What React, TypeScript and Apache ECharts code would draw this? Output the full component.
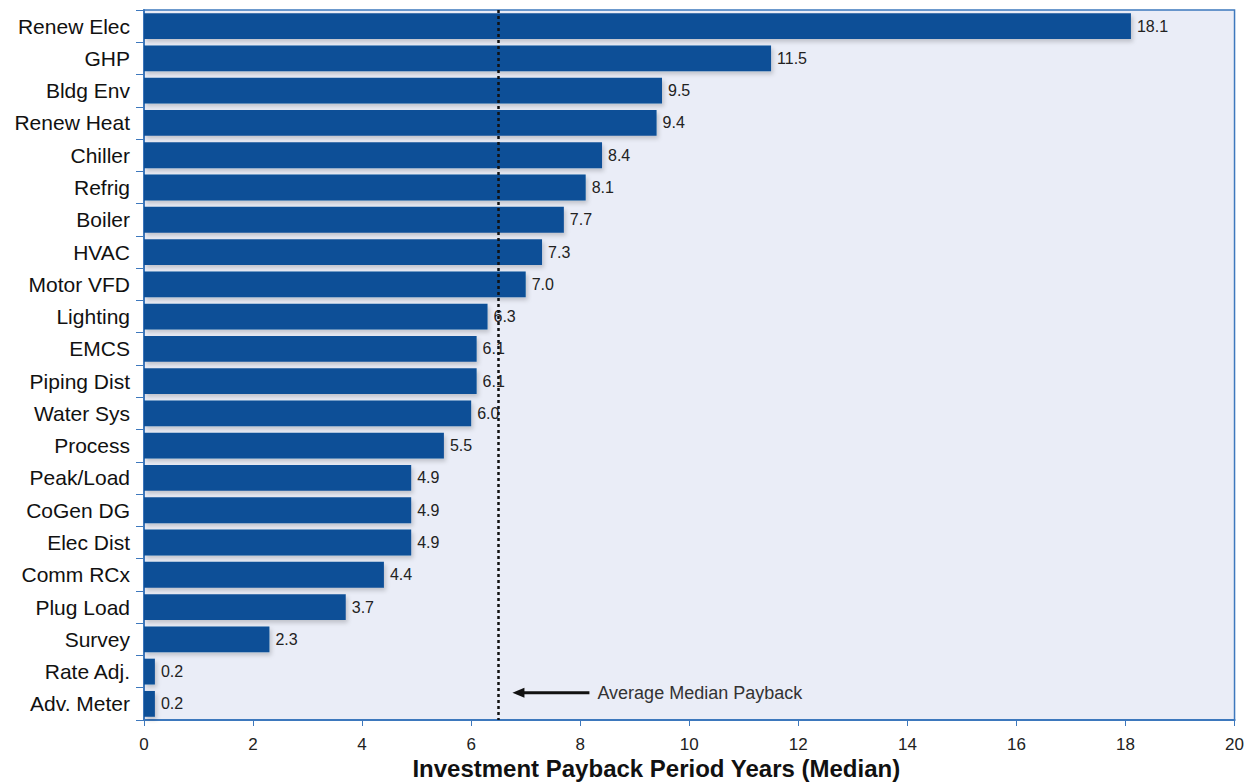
import React, { useEffect, useRef } from "react";
import * as echarts from "echarts";

const categories = [
  "Renew Elec", "GHP", "Bldg Env", "Renew Heat", "Chiller", "Refrig", "Boiler", "HVAC",
  "Motor VFD", "Lighting", "EMCS", "Piping Dist", "Water Sys", "Process", "Peak/Load",
  "CoGen DG", "Elec Dist", "Comm RCx", "Plug Load", "Survey", "Rate Adj.", "Adv. Meter",
];
const values = [
  18.1, 11.5, 9.5, 9.4, 8.4, 8.1, 7.7, 7.3, 7.0, 6.3, 6.1, 6.1, 6.0, 5.5, 4.9, 4.9, 4.9,
  4.4, 3.7, 2.3, 0.2, 0.2,
];
const averageMedian = 6.5;
const axisTitle = "Investment Payback Period Years (Median)";
const annotationText = "Average Median Payback";

const FONT = "'Liberation Sans', Arial, Helvetica, sans-serif";
const BAR = "#0a4f97";
const AXIS = "#3d78bd";

export default function App() {
  const ref = useRef<HTMLDivElement>(null);
  useEffect(() => {
    if (!ref.current) return;
    const chart = echarts.init(ref.current, null, { renderer: "svg" });
    const option: any = {
      animation: false,
      backgroundColor: "#ffffff",
      textStyle: { fontFamily: FONT },
      grid: {
        left: 144,
        right: 8,
        top: 10,
        bottom: 62,
        show: true,
        backgroundColor: "#eaedf7",
        borderColor: AXIS,
        borderWidth: 1.5,
      },
      xAxis: {
        type: "value",
        min: 0,
        max: 20,
        interval: 2,
        splitLine: { show: false },
        axisLine: { show: true, lineStyle: { color: AXIS, width: 2 } },
        axisTick: { show: true, length: 6, lineStyle: { color: AXIS } },
        axisLabel: { color: "#222", fontSize: 17, margin: 16, fontFamily: FONT },
      },
      yAxis: {
        type: "category",
        data: categories,
        inverse: true,
        axisLine: { show: true, lineStyle: { color: AXIS, width: 2 } },
        axisTick: { show: true, length: 8, lineStyle: { color: AXIS } },
        axisLabel: { color: "#111", fontSize: 21, margin: 14, fontFamily: FONT },
      },
      series: [
        {
          type: "bar",
          data: values,
          barCategoryGap: "20%",
          itemStyle: {
            color: BAR,
            shadowColor: "rgba(0,0,0,0.18)",
            shadowBlur: 4,
            shadowOffsetX: 2,
            shadowOffsetY: 3,
          },
          label: {
            show: true,
            position: "right",
            distance: 6,
            color: "#222",
            fontSize: 16,
            fontFamily: FONT,
            formatter: (p: any) => Number(p.value).toFixed(1),
          },
          markLine: {
            silent: true,
            symbol: ["none", "none"],
            label: { show: false },
            lineStyle: { color: "#111", type: [3, 3], width: 2.5 },
            data: [{ xAxis: averageMedian }],
          },
        },
      ],
    };
    chart.setOption(option);

    const lastIdx = categories.length - 1;
    const pA = chart.convertToPixel({ gridIndex: 0 }, [averageMedian, lastIdx]) as number[];
    const pB = chart.convertToPixel({ gridIndex: 0 }, [averageMedian, lastIdx - 1]) as number[];
    const arrowY = (pA[1] + pB[1]) / 2 + 5;
    const xStart = pA[0] + 14;
    const xEnd = xStart + 77;
    const x0 = chart.convertToPixel({ gridIndex: 0 }, [0, 0]) as number[];
    const x20 = chart.convertToPixel({ gridIndex: 0 }, [20, 0]) as number[];
    const titleX = (x0[0] + x20[0]) / 2 - 33;

    chart.setOption({
      graphic: [
        {
          type: "line",
          shape: { x1: xStart + 8, y1: arrowY, x2: xEnd, y2: arrowY },
          style: { stroke: "#111", lineWidth: 3 },
        },
        {
          type: "polygon",
          shape: {
            points: [
              [xStart, arrowY],
              [xStart + 12, arrowY - 5],
              [xStart + 12, arrowY + 5],
            ],
          },
          style: { fill: "#111" },
        },
        {
          type: "text",
          x: xEnd + 8,
          y: arrowY,
          style: {
            text: annotationText,
            fill: "#333",
            font: `18px ${FONT}`,
            textVerticalAlign: "middle",
            verticalAlign: "middle",
          },
        },
        {
          type: "text",
          x: titleX,
          y: 768,
          style: {
            text: axisTitle,
            fill: "#111",
            font: `bold 24px ${FONT}`,
            textAlign: "center",
            align: "center",
            verticalAlign: "middle",
            textVerticalAlign: "middle",
          },
        },
      ],
    });

    return () => chart.dispose();
  }, []);
  return (
    <div
      ref={ref}
      style={{ position: "fixed", left: 0, top: 0, width: 1247, height: 782 }}
    />
  );
}
